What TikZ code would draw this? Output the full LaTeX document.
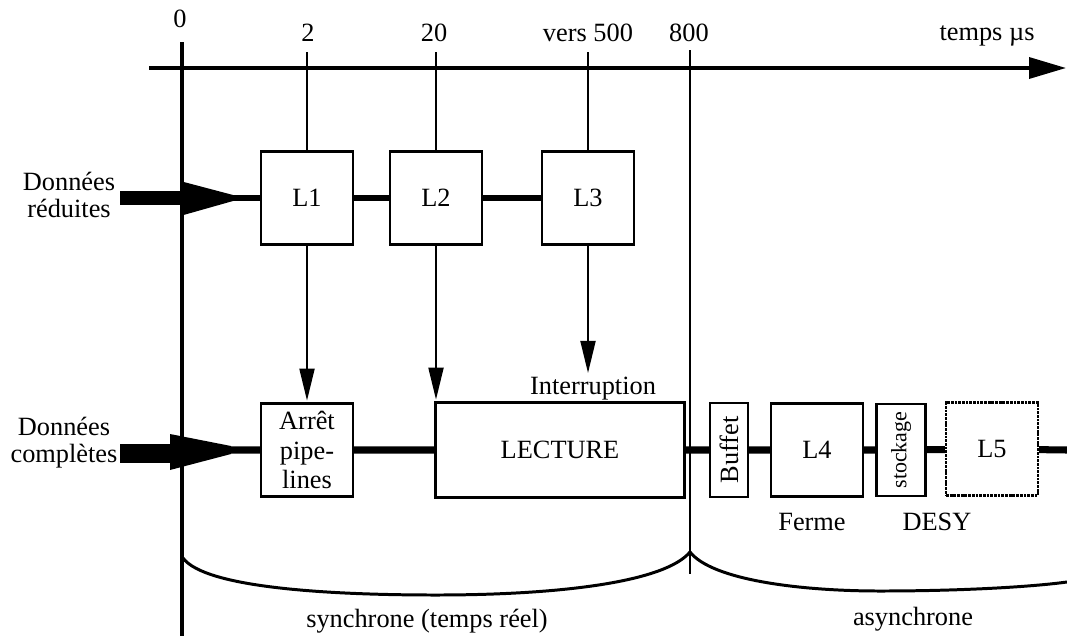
\documentclass[tikz,border=0pt]{standalone}
\usepackage{fontspec}
\setmainfont{Liberation Serif}
\usetikzlibrary{arrows.meta,positioning}

\begin{document}
\begin{tikzpicture}[x=0.02cm,y=-0.02cm,font=\fontsize{15}{17}\selectfont,
    blk/.style={draw,line width=1.3pt,fill=white,inner sep=0pt,align=center},
    sq/.style={blk,minimum width=1.84cm,minimum height=1.86cm},
    bus/.style={line width=3.4pt},
    tick/.style={line width=1.1pt},
    down/.style={line width=1.1pt,shorten >=1pt,-{Triangle[length=0.64cm,width=0.3cm]}},
    side/.style={align=center,font=\fontsize{15}{15.3}\selectfont}]
  \useasboundingbox (0,0) rectangle (1067,636);
  % time axis
  \coordinate (ax0) at (149,68);
  \coordinate (ax1) at (1066,68);
  \coordinate (top) at (0,52);
  \draw[line width=2pt,-{Triangle[length=0.74cm,width=0.42cm]}] (ax0) -- (ax1);
  \node (t0) at (180,19) {0};
  \node (t2) at (308,33) {2};
  \node (t20) at (434,33) {20};
  \node (t500) at (588,33) {vers 500};
  \node (t800) at (689,33) {800};
  \node (unit) at (987,36) {temps µs};
  % time 0 and 800
  \coordinate (z0) at (182,42);
  \coordinate (z1) at (182,636);
  \draw[line width=2.2pt] (z0) -- (z1);
  \coordinate (m0) at (690,50);
  \coordinate (m1) at (690,574);
  \draw[tick] (m0) -- (m1);
  % reduced data
  \node[side] (red) at (69,195) {Données\\réduites};
  \fill (120,191) rectangle (182,205);
  \fill (180,181) -- (233,195) -- (233,201) -- (180,216) -- cycle;
  \coordinate (inR) at (232,198);
  \node[sq] (L1) at (307,198) {L1};
  \node[sq] (L2) at (436,198) {L2};
  \node[sq] (L3) at (588,198) {L3};
  \draw[bus] (inR) -- (L1.west);
  \draw[bus] (L1) -- (L2);
  \draw[bus] (L2) -- (L3);
  \draw[tick] (L1.north) -- (L1.north |- top);
  \draw[tick] (L2.north) -- (L2.north |- top);
  \draw[tick] (L3.north) -- (L3.north |- top);
  % complete data
  \node[side] (comp) at (64,443) {Données\\complètes};
  \fill (120,444) rectangle (172,463);
  \fill (170,434) -- (231,446) -- (231,454) -- (170,470) -- cycle;
  \coordinate (inC) at (230,450);
  \coordinate (endR) at (1067,450);
  \node[sq] (arret) at (307,450) {Arrêt\\pipe-\\lines};
  \node[blk,minimum width=4.98cm,minimum height=1.9cm] (lecture) at (560,450) {LECTURE};
  \node[blk,minimum width=0.76cm,minimum height=1.88cm] (buffet) at (729,450)
       {\rotatebox{90}{Buffet}};
  \node[sq] (L4) at (817,450) {L4};
  \node[blk,minimum width=0.98cm,minimum height=1.84cm] (stock) at (901,450)
       {\rotatebox{90}{\fontsize{12.5}{13}\selectfont stockage}};
  \node[sq,dash pattern=on 1.6pt off 0.5pt] (L5) at (992,449) {L5};
  \node[inner sep=1pt,anchor=south] (intr) at (593,402) {Interruption};
  \draw[line width=4pt] (inC) -- (arret) -- (lecture) -- (buffet) -- (L4) -- (stock) -- (L5) -- (endR);
  \draw[down] (L1) -- (arret);
  \draw[down] (L2.south) -- (L2.south |- lecture.north);
  \draw[down] (L3.south) -- (L3.south |- intr.north);
  \node (ferme) at (812,522) {Ferme};
  \node (desy) at (937,522) {DESY};
  % phases
  \draw[line width=1.7pt] (183,558) .. controls (205,588) and (330,595) .. (436,595)
       .. controls (560,595) and (665,582) .. (690,552);
  \draw[line width=1.7pt] (690,552) .. controls (712,580) and (800,591) .. (880,591)
       .. controls (960,591) and (1030,587) .. (1067,582);
  \node (sync) at (427,621) {synchrone (temps réel)};
  \node (async) at (913,619) {asynchrone};
\end{tikzpicture}
\end{document}
